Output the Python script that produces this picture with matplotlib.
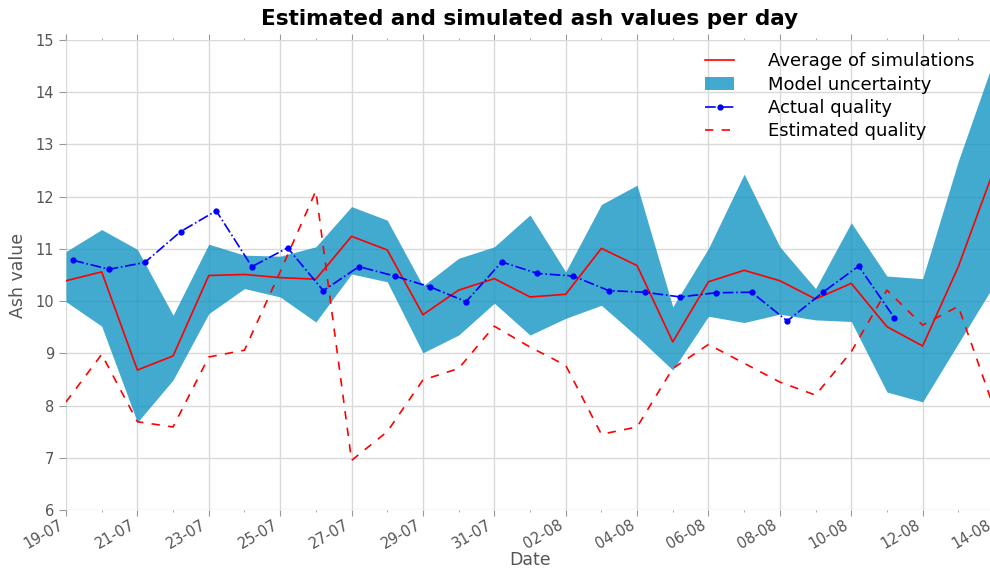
import matplotlib
matplotlib.use("Agg")
import matplotlib.pyplot as plt
import matplotlib.dates as mdates
import numpy as np
import pandas as pd

# Daily values, 19-07 .. 14-08
days = pd.date_range("2017-07-19", "2017-08-14", freq="D")
sim_mean = [10.39, 10.56, 8.68, 8.95, 10.49, 10.51, 10.45, 10.42, 11.24, 10.98,
            9.74, 10.21, 10.43, 10.08, 10.13, 11.01, 10.68, 9.22, 10.37, 10.59,
            10.39, 10.04, 10.34, 9.51, 9.14, 10.66, 12.52]
sim_upper = [10.95, 11.37, 10.99, 9.73, 11.09, 10.88, 10.86, 11.04, 11.81, 11.55,
             10.29, 10.82, 11.04, 11.65, 10.56, 11.85, 12.22, 9.89, 11.01, 12.43,
             11.04, 10.24, 11.50, 10.48, 10.43, 12.68, 14.63]
sim_lower = [9.99, 9.52, 7.68, 8.49, 9.76, 10.24, 10.08, 9.60, 10.52, 10.37,
             9.01, 9.35, 9.96, 9.35, 9.67, 9.92, 9.32, 8.68, 9.71, 9.59,
             9.75, 9.64, 9.61, 8.26, 8.07, 9.19, 10.31]
estimated = [8.07, 8.98, 7.69, 7.59, 8.93, 9.06, 10.56, 12.11, 6.95, 7.50,
             8.49, 8.71, 9.52, 9.12, 8.77, 7.45, 7.59, 8.71, 9.17, 8.81,
             8.45, 8.20, 9.03, 10.21, 9.54, 9.90, 7.95]

# Lab measurements, taken in the morning, 19-07 .. 11-08
actual_days = pd.date_range("2017-07-19 05:00", "2017-08-11 05:00", freq="D")
actual = [10.78, 10.61, 10.74, 11.33, 11.73, 10.66, 11.02, 10.20, 10.66, 10.48,
          10.27, 9.99, 10.75, 10.53, 10.48, 10.20, 10.17, 10.08, 10.16, 10.17,
          9.62, 10.17, 10.67, 9.68]

fig = plt.figure(figsize=(9.9, 5.74), dpi=100)
ax = fig.add_axes([66 / 990, 64 / 574, 928 / 990, 470 / 574])

ax.plot(days, sim_mean, color="red", lw=1.2, label="Average of simulations", zorder=3)
ax.fill_between(days, sim_lower, sim_upper, color="#1394c3", alpha=0.8,
                lw=0, label="Model uncertainty", zorder=2)
ax.plot(actual_days, actual, color="blue", ls="-.", marker=".", ms=7, lw=1.2,
        label="Actual quality", zorder=4)
ax.plot(days, estimated, color="red", ls="--", lw=1.2, dashes=(5, 5),
        label="Estimated quality", zorder=3)

ax.set_xlim(days[0], days[-1])
ax.set_ylim(6, 15)
ax.xaxis.set_major_locator(mdates.DayLocator(interval=2))
ax.xaxis.set_minor_locator(mdates.DayLocator())
ax.xaxis.set_major_formatter(mdates.DateFormatter("%d-%m"))
for lab in ax.get_xticklabels():
    lab.set_rotation(30)
    lab.set_ha("right")

for s in ax.spines.values():
    s.set_visible(False)
ax.grid(True, color="#d9d9d9", lw=1, zorder=0)
ax.set_axisbelow(True)
ax.tick_params(axis="both", which="both", direction="out", colors="#999999",
               labelcolor="#555555", labelsize=10.5)
ax.tick_params(axis="x", which="both", top=True, bottom=True)
ax.tick_params(axis="x", which="major", length=4, pad=1)
ax.tick_params(axis="x", which="minor", length=1.5)
ax.tick_params(axis="y", which="major", length=5, left=True, right=False)

ax.set_title("Estimated and simulated ash values per day", fontsize=15.5,
             fontweight="heavy", pad=11)
ax.set_xlabel("Date", fontsize=12.5, color="#555555", labelpad=0)
ax.set_ylabel("Ash value", fontsize=12.5, color="#555555", labelpad=6)

leg = ax.legend(loc="upper right", fontsize=13, framealpha=0,
                edgecolor="#e8eef2", handlelength=1.6, handletextpad=1.9,
                borderaxespad=0.4, labelspacing=0.3,
                bbox_to_anchor=(0.995, 1.005))

fig.savefig("out.png", dpi=100)
